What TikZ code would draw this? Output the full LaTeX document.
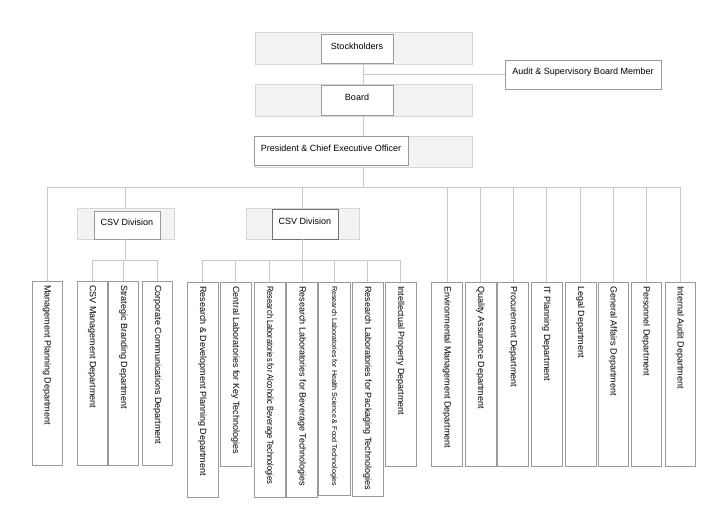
\documentclass[tikz,border=0pt]{standalone}
\usepackage{fontspec}
\setmainfont{Liberation Sans}
\usetikzlibrary{calc}
\definecolor{lineC}{HTML}{C8C8C8}
\definecolor{boxC}{HTML}{9A9A9A}
\definecolor{bgFill}{HTML}{F3F3F3}
\definecolor{bgDraw}{HTML}{D6D6D6}
\definecolor{darkC}{HTML}{707070}
\begin{document}
\begin{tikzpicture}[x=1pt,y=-1pt,
  conn/.style={draw=lineC, line width=0.8pt},
  bgbox/.style={draw=bgDraw, fill=bgFill, line width=0.7pt, inner sep=0pt, outer sep=0pt},
  hbox/.style={draw=boxC, fill=white, line width=0.7pt, inner sep=0pt, outer sep=0pt},
  vbox/.style={draw=boxC, fill=white, line width=0.7pt, inner sep=0pt, outer sep=0pt, minimum width=30pt},
  htxt/.style={inner sep=0pt, font=\fontsize{9}{10}\selectfont},
  vtxt/.style={rotate=-90, anchor=west, inner sep=0pt, font=\fontsize{9}{10}\selectfont}]
\useasboundingbox[fill=white] (0,0) rectangle (725,513);

% top hierarchy
\node[bgbox, minimum width=217pt, minimum height=32pt] (stockBg) at (363.5,48) {};
\node[hbox, minimum width=72pt, minimum height=29pt] (stock) at (357,48.5) {};
\node[htxt] (stockT) at (357,46) {Stockholders};

\node[bgbox, minimum width=217pt, minimum height=32pt] (boardBg) at (363.5,100) {};
\node[hbox, minimum width=72pt, minimum height=30pt] (board) at (357,100) {};
\node[htxt] (boardT) at (357,97.5) {Board};

\node[bgbox, minimum width=217pt, minimum height=31pt] (presBg) at (363.5,151.5) {};
\node[hbox, minimum width=154pt, minimum height=29pt] (pres) at (331,150.5) {};
\node[htxt] (presT) at (331,148) {President \& Chief Executive Officer};

\node[hbox, minimum width=156pt, minimum height=29pt] (audit) at (583,74.5) {};
\node[htxt] (auditT) at (583,72.5) {Audit \& Supervisory Board Member};

% divisions
\node[bgbox, minimum width=97pt, minimum height=31pt] (csvaBg) at (125.5,223.5) {};
\node[hbox, minimum width=66pt, minimum height=28pt] (csva) at (127,225) {};
\node[htxt] (csvaT) at (127,222.5) {CSV Division};

\node[bgbox, minimum width=113pt, minimum height=31pt] (csvbBg) at (302.5,223.5) {};
\node[hbox, draw=darkC, minimum width=66pt, minimum height=30pt] (csvb) at (305,224) {};
\node[htxt] (csvbT) at (305,221.5) {CSV Division};

% bottom boxes
\node[vbox, minimum height=184pt] (mp) at (47,373) {};
\node[vbox, minimum height=184pt] (csvm) at (92,373) {};
\node[vbox, minimum height=184pt] (sb) at (123.5,373) {};
\node[vbox, minimum height=184pt] (cc) at (157.5,373) {};

\node[vbox, minimum width=31pt, minimum height=215pt] (rd) at (202.5,389.5) {};
\node[vbox, minimum width=31pt, minimum height=184pt] (cl) at (235.5,374) {};
\node[vbox, minimum width=31pt, minimum height=215pt] (alc) at (269.5,389.5) {};
\node[vbox, minimum width=31pt, minimum height=215pt] (bev) at (302,389.5) {};
\node[vbox, minimum width=32pt, minimum height=213pt] (hs) at (334,388.5) {};
\node[vbox, minimum width=31pt, minimum height=214pt] (pk) at (367.5,389) {};
\node[vbox, minimum width=31pt, minimum height=184pt] (ip) at (400.5,374) {};

\node[vbox, minimum width=31pt, minimum height=184pt] (env) at (447,374) {};
\node[vbox, minimum width=31pt, minimum height=184pt] (qa) at (480.5,374) {};
\node[vbox, minimum width=31pt, minimum height=184pt] (pr) at (513,374) {};
\node[vbox, minimum width=31pt, minimum height=184pt] (it) at (546.5,374) {};
\node[vbox, minimum width=31pt, minimum height=184pt] (lg) at (580.5,374) {};
\node[vbox, minimum width=30pt, minimum height=184pt] (ga) at (613,374) {};
\node[vbox, minimum width=30pt, minimum height=184pt] (pe) at (646,374) {};
\node[vbox, minimum width=30pt, minimum height=184pt] (ia) at (680,374) {};

% vertical texts
\node[vtxt] at ($(mp.north)+(0,4)$) {Management Planning Department};
\node[vtxt] at ($(csvm.north)+(0,4)$) {CSV Management Department};
\node[vtxt] at ($(sb.north)+(0,4)$) {Strategic Branding Department};
\node[vtxt] at ($(cc.north)+(0,4)$) {Corporate Communications Department};
\node[vtxt] at ($(rd.north)+(0,4)$) {Research \& Development Planning Department};
\node[vtxt] at ($(cl.north)+(0,4)$) {Central Laboratories for Key Technologies};
\node[vtxt] at ($(alc.north)+(0,4)$) {\scalebox{0.83}[1]{Research Laboratories for Alcoholic Beverage Technologies}};
\node[vtxt] at ($(bev.north)+(0,4)$) {Research Laboratories for Beverage Technologies};
\node[vtxt, font=\fontsize{7.1}{8}\selectfont] at ($(hs.north)+(0,4)$) {Research Laboratories for Health Science \& Food Technologies};
\node[vtxt] at ($(pk.north)+(0,4)$) {Research Laboratories for Packaging Technologies};
\node[vtxt] at ($(ip.north)+(0,4)$) {Intellectual Property Department};
\node[vtxt] at ($(env.north)+(0,4)$) {Environmental Management Department};
\node[vtxt] at ($(qa.north)+(0,4)$) {Quality Assurance Department};
\node[vtxt] at ($(pr.north)+(0,4)$) {Procurement Department};
\node[vtxt] at ($(it.north)+(0,4)$) {IT Planning Department};
\node[vtxt] at ($(lg.north)+(0,4)$) {Legal Department};
\node[vtxt] at ($(ga.north)+(0,4)$) {General Affairs Department};
\node[vtxt] at ($(pe.north)+(0,4)$) {Personnel Department};
\node[vtxt] at ($(ia.north)+(0,4)$) {Internal Audit Department};

% connectors
\coordinate (bus) at (0,187);
\coordinate (sub) at (0,260);
\draw[conn] (stockBg.south) -- (boardBg.north);
\draw[conn] (boardBg.south) -- (presBg.north);
\draw[conn] (stockBg.south |- audit.west) -- (audit.west);
\draw[conn] (presBg.south) -- (presBg.south |- bus);
\draw[conn] (mp.north |- bus) -- (ia.north |- bus);
\foreach \n in {mp,env,qa,pr,it,lg,ga,pe,ia}
  \draw[conn] (\n.north) -- (\n.north |- bus);
\draw[conn] (csvaBg.north) -- (csvaBg.north |- bus);
\draw[conn] (csvaBg.south) -- (csvaBg.south |- sub);
\draw[conn] (csvm.north |- sub) -- (cc.north |- sub);
\foreach \n in {csvm,sb,cc}
  \draw[conn] (\n.north) -- (\n.north |- sub);
\draw[conn] (csvbBg.north) -- (csvbBg.north |- bus);
\draw[conn] (csvbBg.south) -- (csvbBg.south |- sub);
\draw[conn] (rd.north |- sub) -- (ip.north |- sub);
\foreach \n in {rd,cl,alc,bev,hs,pk,ip}
  \draw[conn] (\n.north) -- (\n.north |- sub);
\end{tikzpicture}
\end{document}
